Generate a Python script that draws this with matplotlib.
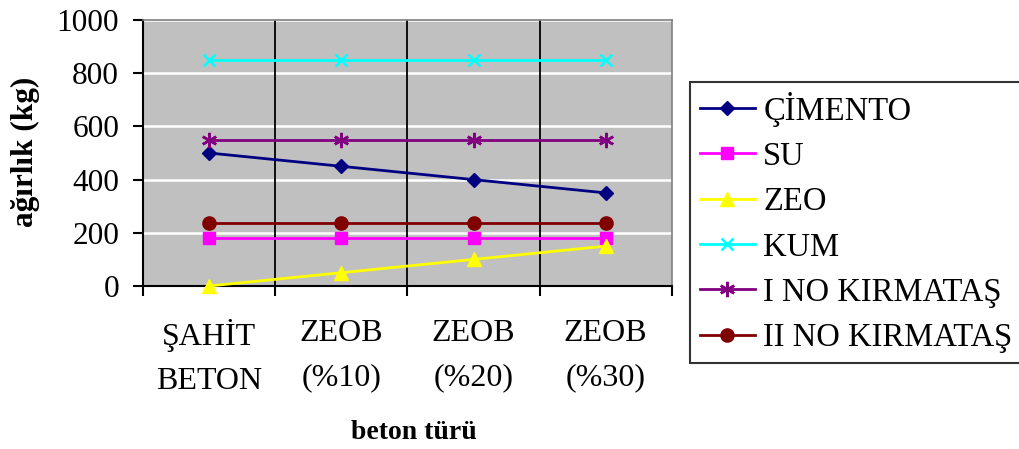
import numpy as np
import matplotlib.pyplot as plt
from matplotlib.lines import Line2D

plt.rcParams['font.family'] = ['Liberation Serif', 'DejaVu Serif']

kategoriler = ["ŞAHİT\nBETON", "ZEOB\n(%10)", "ZEOB\n(%20)", "ZEOB\n(%30)"]
cimento = [500, 450, 400, 350]
su = [180, 180, 180, 180]
zeo = [0, 50, 100, 150]
kum = [850, 850, 850, 850]
kirmatas_1 = [550, 550, 550, 550]
kirmatas_2 = [235, 235, 235, 235]

seriler = [
    ("ÇİMENTO", cimento, "#000080", "D", 7.5),
    ("SU", su, "#FF00FF", "s", 8.5),
    ("ZEO", zeo, "#FFFF00", "^", 9.5),
    ("KUM", kum, "#00FFFF", "x", 9),
    ("I NO KIRMATAŞ", kirmatas_1, "#800080", (6, 2, 0), 11),
    ("II NO KIRMATAŞ", kirmatas_2, "#800000", "o", 9.5),
]

fig = plt.figure(figsize=(10.19, 4.49), dpi=100)
ax = fig.add_axes([0.1403, 0.363, 0.519, 0.5925])
ax.set_facecolor("#C0C0C0")

x = np.arange(len(kategoriler))
handles = []
for ad, deger, renk, isaret, boy in seriler:
    mew = 1.8 if isaret in ("x", (6, 2, 0)) else 1
    ax.plot(x, deger, color=renk, marker=isaret, markersize=boy,
            markeredgewidth=mew, linewidth=2, zorder=3, clip_on=False)
    handles.append(Line2D([0], [0], color=renk, marker=isaret, markersize=boy,
                          markeredgewidth=mew, linewidth=2, label=ad))

ax.set_xlim(-0.5, 3.5)
ax.set_ylim(0, 1000)
ax.set_yticks(range(0, 1001, 200))
ax.yaxis.grid(True, color="white", linewidth=1.8)
ax.set_axisbelow(True)
for b in [0.5, 1.5, 2.5]:
    ax.axvline(b, color="black", linewidth=1.3, zorder=1)

# boundary ticks below the axis, labels centred on categories
ax.set_xticks([-0.5, 0.5, 1.5, 2.5, 3.5])
ax.set_xticklabels([])
ax.set_xticks(x, minor=True)
ax.set_xticklabels(kategoriler, minor=True, fontsize=23, linespacing=1.66)
ax.tick_params(axis="x", which="minor", length=0, pad=24)
ax.tick_params(axis="x", which="major", length=7.2, width=1.5, direction="out")
ax.tick_params(axis="y", length=7.2, width=1.5, direction="out", labelsize=22.5, pad=10)

for s in ["left", "bottom"]:
    ax.spines[s].set_color("black")
    ax.spines[s].set_linewidth(1.5)
for s in ["top", "right"]:
    ax.spines[s].set_color("#808080")
    ax.spines[s].set_linewidth(1.2)

ax.set_xlabel("beton türü", fontsize=20, fontweight="bold", va="center")
ax.xaxis.set_label_coords(0.512, -0.549)
ax.set_ylabel("ağırlık (kg)", fontsize=22.5, fontweight="bold", va="center")
ax.yaxis.set_label_coords(-0.223, 0.504)

leg = fig.legend(handles=handles, loc="upper left", bbox_to_anchor=(0.677, 0.818),
                 fontsize=23.5, frameon=True, fancybox=False, edgecolor="black",
                 handlelength=1.7, handletextpad=0.25, labelspacing=0.455,
                 borderpad=0.3, borderaxespad=0)
leg.get_frame().set_linewidth(1.5)

fig.savefig("out.png", dpi=100)
